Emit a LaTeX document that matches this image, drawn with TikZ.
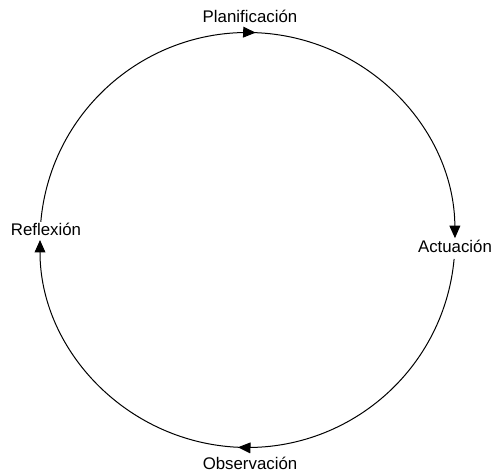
\documentclass[tikz,border=0pt]{standalone}
\usepackage{fontspec}
\setmainfont{Liberation Sans}
\usetikzlibrary{arrows.meta,decorations.markings,calc}
\begin{document}
\begin{tikzpicture}[x=0.6pt,y=0.6pt,
  lbl/.style={anchor=base,inner sep=0pt,font=\fontsize{10.1}{12}\selectfont},
  cyc/.style={line width=0.6pt,-{Triangle[length=7.5pt,width=6.5pt]},
    postaction={decorate},
    decoration={markings,mark=at position 0.5 with {\arrow{Triangle[length=7.5pt,width=6.5pt]}}}}]
\useasboundingbox (0,0) rectangle (494,475);
\def\R{207.5}
\coordinate (c) at (247.5,235);
\node[lbl] (plan) at (250,452) {Planificación};
\node[lbl] (act) at (455,222) {Actuación};
\node[lbl] (obs) at (250,5) {Observación};
\node[lbl] (ref) at (46,239) {Reflexión};
\coordinate (gapL) at ($(c)+(175:\R)$);
\coordinate (gapR) at ($(c)+(-5.25:\R)$);
\draw[cyc] (gapL) arc[start angle=175,end angle=0.5,radius=\R];
\draw[cyc] (gapR) arc[start angle=-5.25,end angle=-180,radius=\R];
\end{tikzpicture}
\end{document}
